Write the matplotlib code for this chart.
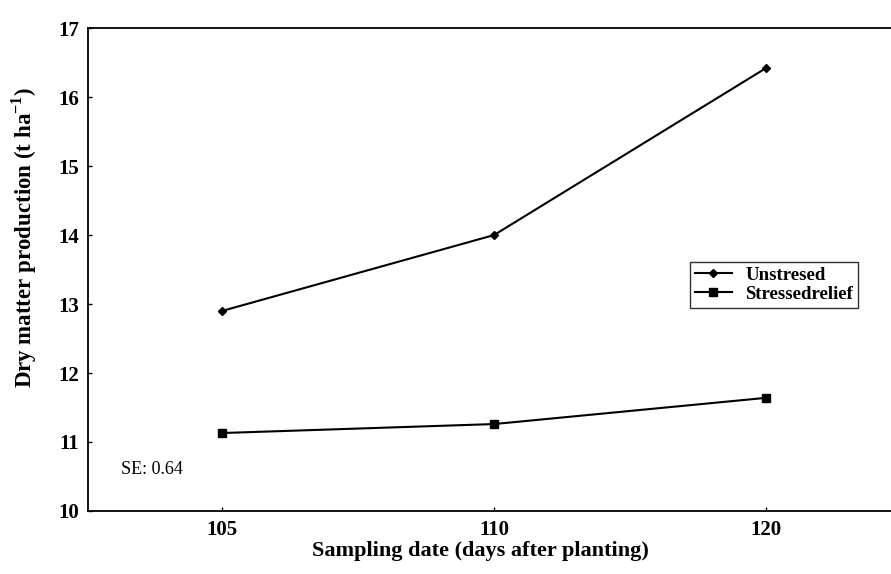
import matplotlib
matplotlib.use('Agg')
import matplotlib.pyplot as plt
import numpy as np

plt.rcParams['font.family'] = 'Liberation Serif'
plt.rcParams['font.size'] = 11
plt.rcParams['mathtext.fontset'] = 'custom'
plt.rcParams['mathtext.rm'] = 'Liberation Serif:bold'
plt.rcParams['mathtext.bf'] = 'Liberation Serif:bold'

days = ['105', '110', '120']
unstressed = [12.9, 14.0, 16.42]
stressed = [11.13, 11.26, 11.64]

fig = plt.figure(figsize=(8.91, 5.74), dpi=100)
ax = fig.add_axes([0.0988, 0.1098, 0.9012, 0.8412])

x = np.arange(len(days))
ax.plot(x, unstressed, color='black', lw=1.5, marker='D', ms=4, label='Unstresed')
ax.plot(x, stressed, color='black', lw=1.5, marker='s', ms=6, label='Stressedrelief')

ax.set_xlim(-0.493, 2.46)
ax.set_ylim(10, 17)
ax.set_xticks(x)
ax.set_xticklabels(days, fontweight='bold', fontsize=15)
ax.set_yticks(range(10, 18))
ax.set_yticklabels([str(v) for v in range(10, 18)], fontweight='bold', fontsize=15)
ax.tick_params(direction='in', length=3, width=1, pad=6.5)

ax.spines['right'].set_visible(False)
for s in ['left', 'bottom', 'top']:
    ax.spines[s].set_linewidth(1.3)

ax.set_xlabel('Sampling date (days after planting)', fontweight='bold', fontsize=16)
ax.set_ylabel(r'Dry matter production (t ha$^{-1}$)', fontweight='bold', fontsize=16.5)
ax.xaxis.set_label_coords(0.489, -0.062)
ax.yaxis.set_label_coords(-0.061, 0.567)

ax.text(0.041, 0.085, 'SE: 0.64', transform=ax.transAxes, fontsize=13, va='center')

leg = ax.legend(loc='upper left', bbox_to_anchor=(0.7497, 0.5155), frameon=True, fancybox=False,
                edgecolor='black', prop={'weight': 'bold', 'size': 13.5}, handlelength=2.0,
                handletextpad=0.7, borderpad=0.25, labelspacing=0.1, borderaxespad=0)
leg.get_frame().set_linewidth(1.0)

fig.savefig('out.png', dpi=100)
